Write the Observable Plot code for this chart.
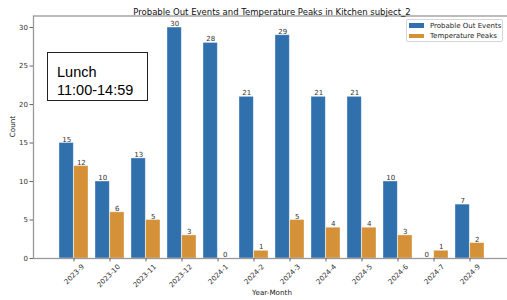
<!DOCTYPE html>
<html><head><meta charset="utf-8">
<script src="https://cdn.jsdelivr.net/npm/d3@7"></script>
<script src="https://cdn.jsdelivr.net/npm/@observablehq/plot@0.6"></script>
<style>
body{margin:0;background:#fff;}
#wrap{position:relative;width:507px;height:300px;font-family:"DejaVu Sans",sans-serif;overflow:hidden;}
#wrap svg{position:absolute;left:0;top:0;max-width:none !important;width:511px !important;height:300px !important;}
.legend{position:absolute;left:406px;top:19px;width:97px;height:23px;border:1px solid #d6d6d6;border-radius:2px;background:rgba(255,255,255,0.85);box-sizing:border-box;}
.lrow{position:absolute;left:2px;height:8px;display:flex;align-items:center;font-size:7px;color:#262626;white-space:nowrap;}
.sw{width:15px;height:4.5px;margin-right:6px;}
.note{position:absolute;left:47px;top:52px;width:101px;height:49px;border:1px solid #222;box-sizing:border-box;background:#fff;font-family:"Liberation Sans",Arial,sans-serif;font-size:14.5px;color:#000;}
.note div{position:absolute;left:9px;line-height:1;white-space:nowrap;}
</style></head><body><div id="wrap"></div>
<script>
const months = ["2023-9","2023-10","2023-11","2023-12","2024-1","2024-2","2024-3","2024-4","2024-5","2024-6","2024-7","2024-9"];
const outEvents = [15,10,13,30,28,21,29,21,21,10,0,7];
const tempPeaks = [12,6,5,3,0,1,5,4,4,3,1,2];
const seriesNames = ["Probable Out Events","Temperature Peaks"];
const seriesColors = ["#3070ad","#d59137"];
const yTicks = [0,5,10,15,20,25,30];
const titleText = "Probable Out Events and Temperature Peaks in Kitchen subject_2";
const xLabel = "Year-Month";
const yLabel = "Count";
const noteLines = ["Lunch","11:00-14:59"];

const data = months.map((m,i)=>({month:m, out:outEvents[i], temp:tempPeaks[i]}));

// plot area extends slightly past the right edge of the 507px picture (right spine cropped)
const W = 511, H = 300, mL = 33, mR = 1, mT = 15.5, mB = 42;
const pInner = 0.2, pOuter = 0.59;
const step = (W - mL - mR) / (months.length - pInner + 2*pOuter);
const half = step * (1 - pInner) / 2;

const chart = Plot.plot({
  width: W, height: H,
  marginLeft: mL, marginRight: mR, marginTop: mT, marginBottom: mB,
  style: {fontFamily: "DejaVu Sans, sans-serif", fontSize: "7px", color: "#333", background: "transparent"},
  x: {domain: months, paddingInner: pInner, paddingOuter: pOuter, align: 0.5, axis: null},
  y: {domain: [0, 31.5], axis: null},
  marks: [
    Plot.barY(data, {x: "month", y: "out", fill: seriesColors[0], insetRight: half, stroke: "#fff", strokeOpacity: 0.45, strokeWidth: 0.8}),
    Plot.barY(data, {x: "month", y: "temp", fill: seriesColors[1], insetLeft: half, stroke: "#fff", strokeOpacity: 0.45, strokeWidth: 0.8}),
    Plot.text(data, {x: "month", y: "out", text: "out", dx: -half/2, dy: -1.5, lineAnchor: "bottom", fill: "#333", fontSize: 7}),
    Plot.text(data, {x: "month", y: "temp", text: "temp", dx: half/2, dy: -1.5, lineAnchor: "bottom", fill: "#333", fontSize: 7}),
    Plot.frame({stroke: "#999", strokeWidth: 1.3}),
    Plot.axisY({ticks: yTicks, tickSize: 3.5, tickPadding: 2, label: null, stroke: "#666", fill: "#333", fontSize: 7}),
    Plot.axisX({tickSize: 3.5, label: null, stroke: "#666", tickFormat: () => ""}),
    Plot.text(months, {x: d => d, text: d => d, frameAnchor: "bottom", rotate: -45, textAnchor: "end", lineAnchor: "middle", dx: 9, dy: 7, fill: "#333", fontSize: 7}),
    Plot.text([yLabel], {text: d => d, frameAnchor: "left", rotate: -90, dx: -21, fill: "#222", fontSize: 7.2}),
    Plot.text([xLabel], {text: d => d, frameAnchor: "bottom", dy: 36.5, fill: "#222", fontSize: 7.2}),
    Plot.text([titleText], {text: d => d, frameAnchor: "top", dy: -7.5, fill: "#111", fontSize: 8.5})
  ]
});
const wrap = document.getElementById("wrap");
wrap.appendChild(chart);

const note = document.createElement("div");
note.className = "note";
noteLines.forEach((t, i) => {
  const d = document.createElement("div");
  d.textContent = t;
  d.style.top = (11.5 + i*18) + "px";
  note.appendChild(d);
});
wrap.appendChild(note);

const leg = document.createElement("div");
leg.className = "legend";
seriesNames.forEach((n, i) => {
  const r = document.createElement("div");
  r.className = "lrow";
  r.style.top = (1.5 + i*10.3) + "px";
  const s = document.createElement("div");
  s.className = "sw"; s.style.background = seriesColors[i];
  const t = document.createElement("span");
  t.textContent = n;
  r.appendChild(s); r.appendChild(t);
  leg.appendChild(r);
});
wrap.appendChild(leg);
</script></body></html>
